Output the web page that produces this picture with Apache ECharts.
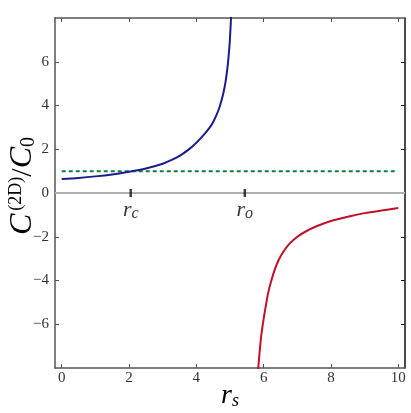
<!DOCTYPE html>
<html>
<head>
<meta charset="utf-8">
<script src="https://cdn.jsdelivr.net/npm/echarts@6/dist/echarts.min.js"></script>
<style>
  html, body { margin: 0; padding: 0; background: #fff; }
  #chart { width: 411px; height: 413px; }
</style>
</head>
<body>
<div id="chart"></div>
<script>
// tick values
const xTicks = [0, 2, 4, 6, 8, 10];
const yTicks = [-6, -4, -2, 0, 2, 4, 6];

// blue branch (r_s below the pole)
const blueR = [0, 0.5, 1.0, 1.5, 2.0, 2.5, 3.0, 3.25, 3.5, 3.75, 4.0, 4.2, 4.4, 4.5, 4.6, 4.7, 4.8, 4.87, 4.93, 4.97, 5.0, 5.04];
const blueC = [0.64, 0.69, 0.76, 0.85, 0.97, 1.12, 1.34, 1.5, 1.7, 1.96, 2.3, 2.62, 3.0, 3.25, 3.57, 3.98, 4.55, 5.1, 5.8, 6.45, 7.1, 8.3];

// red branch (r_s above the pole)
const redR = [5.83, 5.87, 5.93, 6.0, 6.07, 6.13, 6.22, 6.33, 6.45, 6.58, 6.75, 7.0, 7.25, 7.57, 8.0, 8.56, 9.0, 9.5, 10.0];
const redC = [-8.2, -7.45, -6.5, -5.75, -5.1, -4.6, -4.05, -3.5, -3.05, -2.7, -2.35, -2.0, -1.76, -1.52, -1.28, -1.06, -0.92, -0.8, -0.69];

// dashed reference level
const refR = [0, 9.9];
const refC = [1, 1];

// marked radii on the zero line
const markR = [2.05, 5.44];
const markSub = ['c', 'o'];

const serif = '"Liberation Serif", "DejaVu Serif", serif';

function pairs(xs, ys) {
  return xs.map((x, i) => [x, ys[i]]);
}

function axisBase(pos, lineColor) {
  return {
    type: 'value', position: pos,
    splitLine: { show: false },
    axisLine: { onZero: false, lineStyle: { color: lineColor, width: 1.5 } },
    axisTick: { inside: true, length: 4, lineStyle: { color: lineColor } }
  };
}

const chart = echarts.init(document.getElementById('chart'));

const xBottom = axisBase('bottom', '#555');
xBottom.min = -0.2; xBottom.max = 10.2;
xBottom.axisTick.customValues = xTicks;
xBottom.axisLabel = { customValues: xTicks, color: '#333', fontFamily: serif, fontSize: 15, margin: 3 };

const xTop = axisBase('top', '#555');
xTop.min = -0.2; xTop.max = 10.2;
xTop.axisTick.customValues = xTicks;
xTop.axisLabel = { show: false };

const yLeft = axisBase('left', '#555');
yLeft.min = -8; yLeft.max = 8;
yLeft.axisTick.customValues = yTicks;
yLeft.axisLabel = {
  customValues: yTicks, color: '#333', fontFamily: serif, fontSize: 15, margin: 6,
  formatter: v => String(v).replace('-', '\u2212')
};

const yRight = axisBase('right', '#111');
yRight.min = -8; yRight.max = 8;
yRight.axisTick.customValues = yTicks;
yRight.axisLabel = { show: false };

chart.setOption({
  animation: false,
  grid: { left: 55, top: 18, right: 6, bottom: 45, containLabel: false },
  xAxis: [xBottom, xTop],
  yAxis: [yLeft, yRight],
  series: [
    {
      type: 'line', data: pairs(refR, refC), symbol: 'none', z: 3,
      lineStyle: { color: '#0a8040', width: 2, type: [4, 3] },
      markLine: {
        silent: true, symbol: 'none', label: { show: false }, z: 1,
        lineStyle: { color: '#b0b0b0', width: 2, type: 'solid' },
        data: [{ yAxis: 0 }]
      }
    },
    {
      type: 'line', data: pairs(blueR, blueC), symbol: 'none',
      smooth: 0.3, clip: true, z: 4,
      lineStyle: { color: '#1c1c8a', width: 2 }
    },
    {
      type: 'line', data: pairs(redR, redC), symbol: 'none',
      smooth: 0.3, clip: true, z: 4,
      lineStyle: { color: '#c0102a', width: 2 }
    },
    {
      type: 'scatter', z: 6,
      data: markR.map((r, i) => ({ value: [r, 0], sub: markSub[i] })),
      symbol: 'rect', symbolSize: [2.5, 8],
      itemStyle: { color: '#111' },
      label: {
        show: true, position: 'bottom', distance: 1,
        formatter: p => '{r|r}{s|' + p.data.sub + '}',
        rich: {
          r: { fontFamily: serif, fontStyle: 'italic', fontSize: 22, color: '#000' },
          s: { fontFamily: serif, fontStyle: 'italic', fontSize: 16, color: '#000', verticalAlign: 'bottom', padding: [8, 0, 0, 0] }
        }
      }
    }
  ],
  graphic: [
    {
      type: 'text', x: 23, y: 186, rotation: Math.PI / 2,
      style: {
        text: '{c|C}{sup|(2D)}{sl|/}{c|C}{sub|0}',
        align: 'center', verticalAlign: 'middle',
        rich: {
          c: { fontFamily: serif, fontStyle: 'italic', fontSize: 32, fill: '#000' },
          sup: { fontFamily: serif, fontSize: 18, fill: '#000', verticalAlign: 'top', padding: [0, 0, 12, 3] },
          sl: { fontFamily: serif, fontSize: 30, fill: '#000' },
          sub: { fontFamily: serif, fontSize: 20, fill: '#000', verticalAlign: 'bottom', padding: [10, 0, 0, 0] }
        }
      }
    },
    {
      type: 'text', x: 230, y: 396,
      style: {
        text: '{r|r}{s|s}',
        align: 'center', verticalAlign: 'middle',
        rich: {
          r: { fontFamily: serif, fontStyle: 'italic', fontSize: 28, fill: '#000' },
          s: { fontFamily: serif, fontStyle: 'italic', fontSize: 18, fill: '#000', verticalAlign: 'bottom', padding: [9, 0, 0, 0] }
        }
      }
    }
  ]
});
</script>
</body>
</html>
